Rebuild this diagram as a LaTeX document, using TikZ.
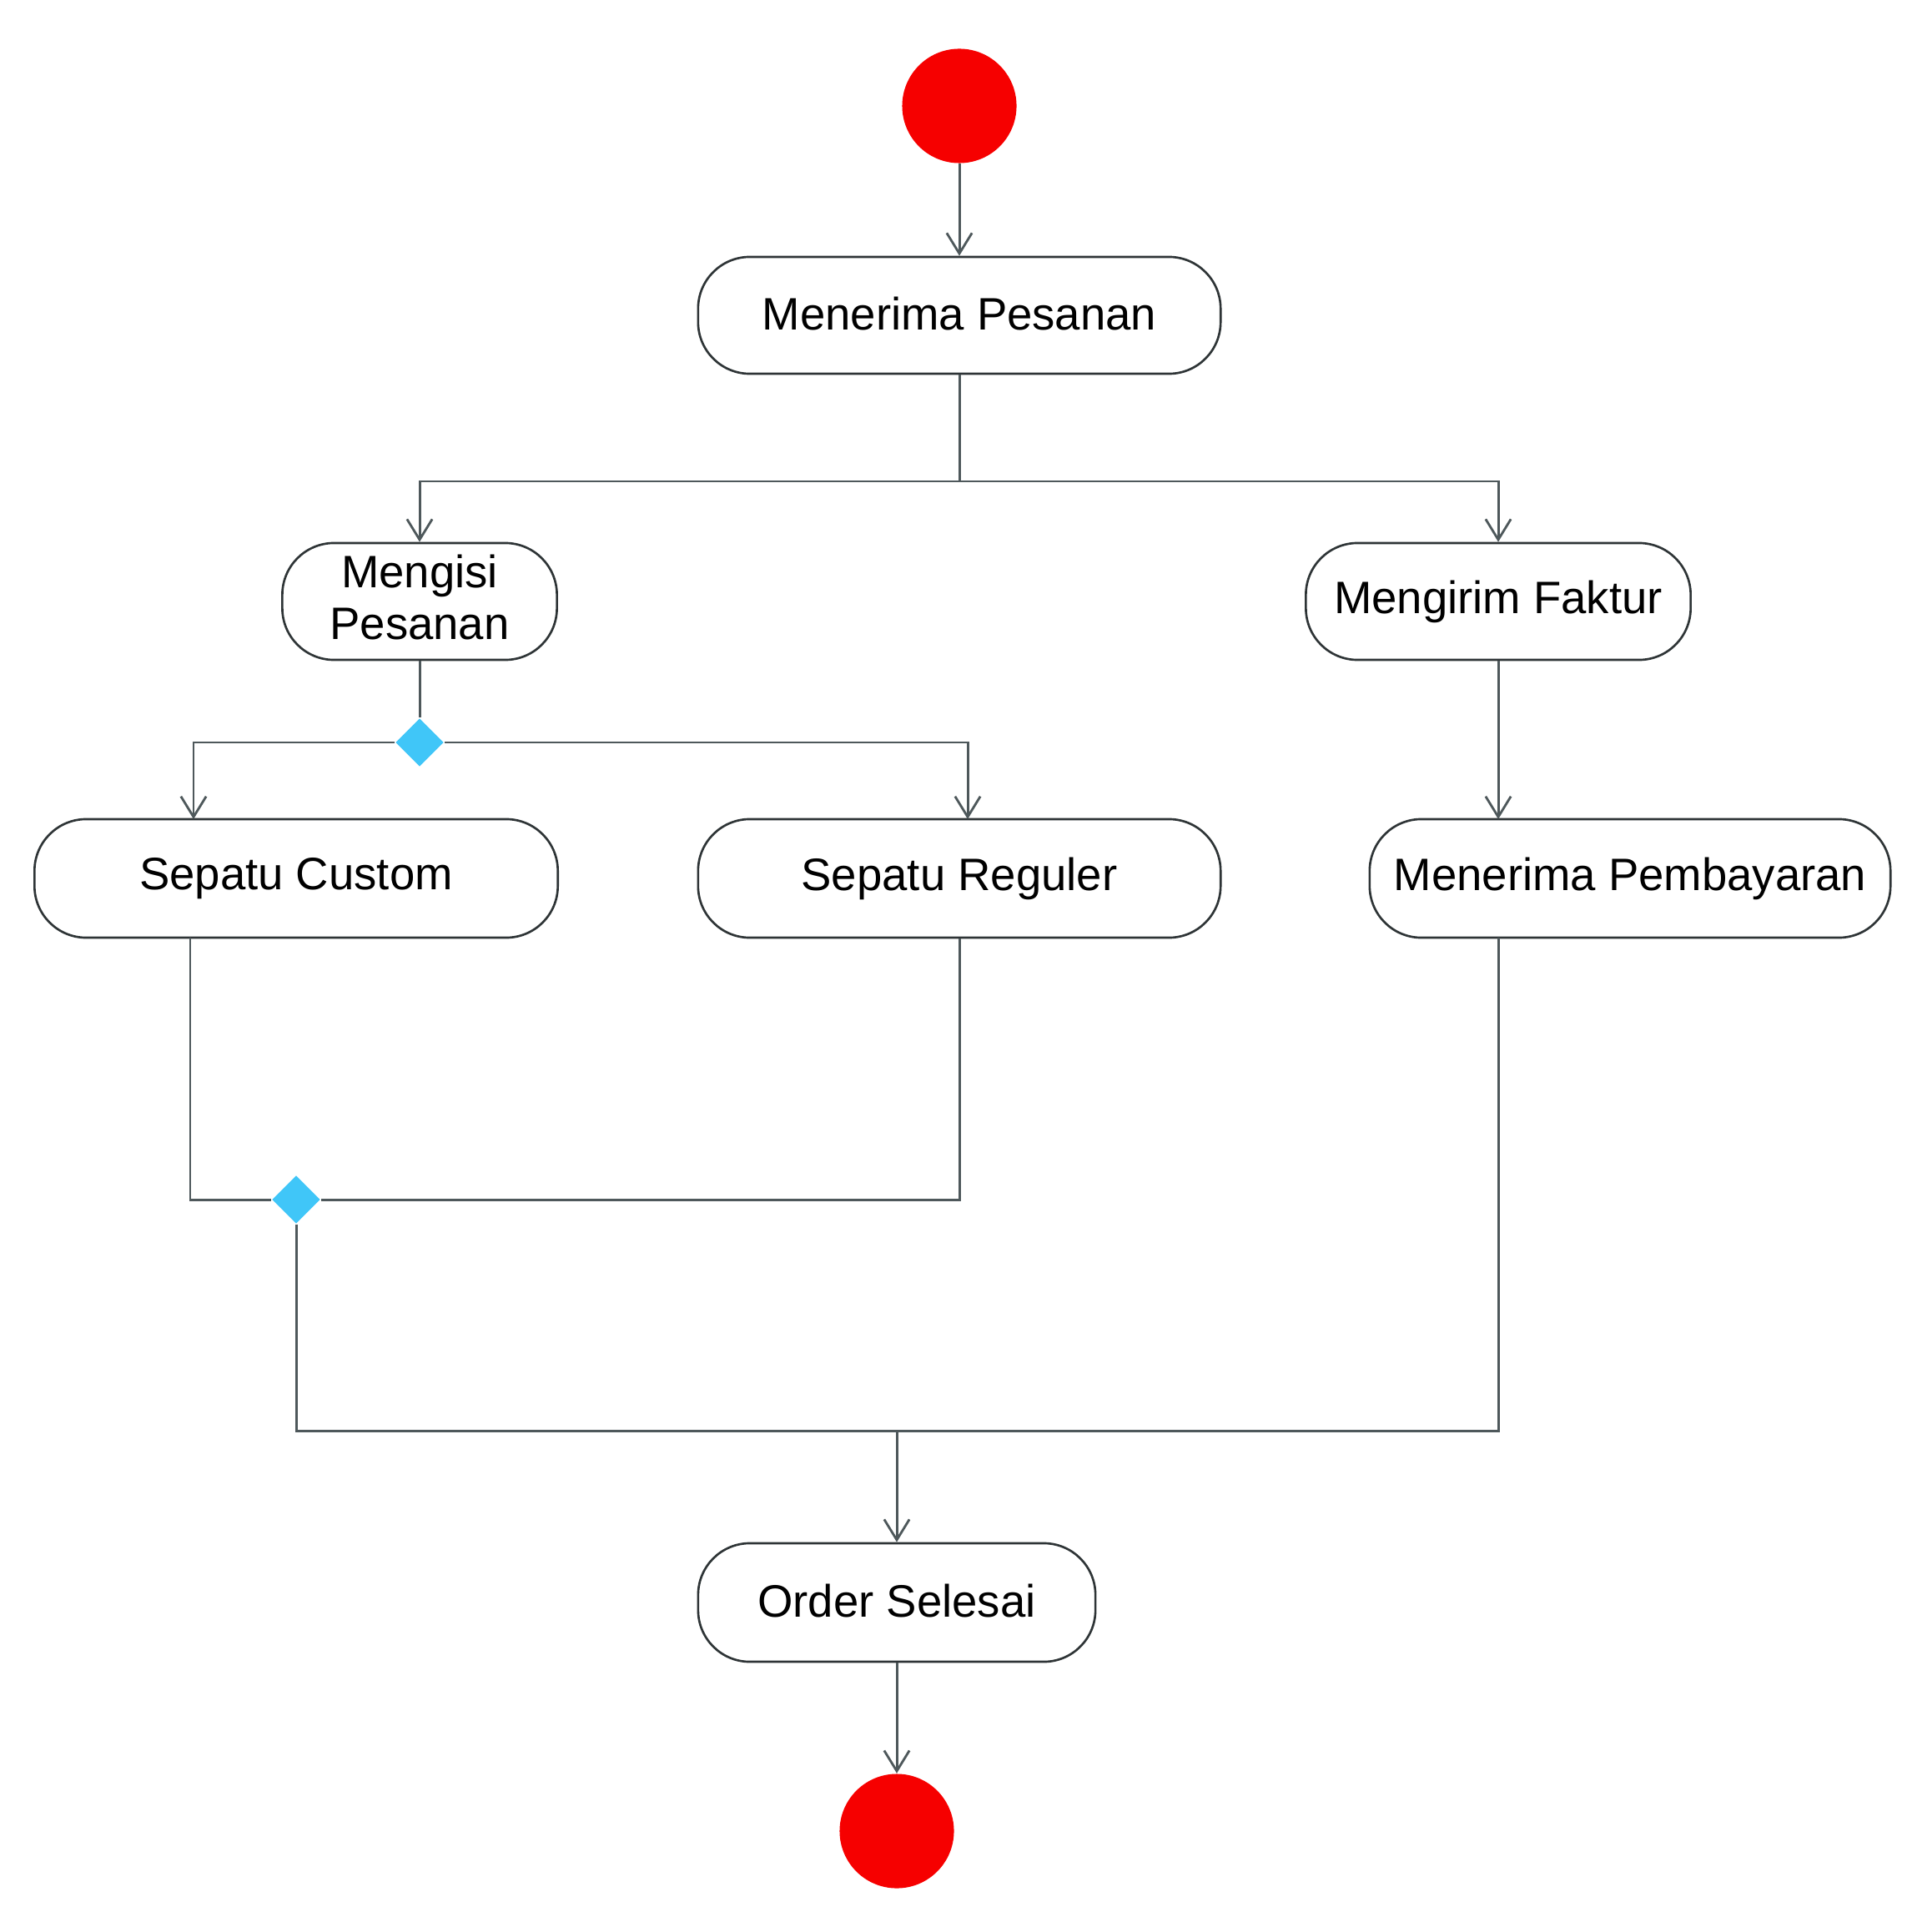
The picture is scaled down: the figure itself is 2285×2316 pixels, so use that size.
\documentclass[tikz,border=0pt]{standalone}
\usepackage{fontspec}
\setmainfont{Liberation Sans}
\usetikzlibrary{arrows.meta,shapes.geometric}
\definecolor{redfill}{HTML}{F60000}
\definecolor{diafill}{HTML}{40C6F8}
\definecolor{lncol}{HTML}{4E585B}
\definecolor{bxcol}{HTML}{2E3436}
\newcommand\uplbl[1]{\raisebox{1.1pt}{#1}}
\tikzset{
  act/.style={draw=bxcol, line width=0.75pt, rounded corners=0.62cm, fill=white,
    minimum height=1.40cm, inner sep=0pt, align=center,
    font=\fontsize{15.5}{17.4}\selectfont},
  dot/.style={circle, fill=redfill, draw=none, minimum size=1.37cm, inner sep=0pt},
  dec/.style={diamond, fill=diafill, draw=none, minimum size=0.58cm, inner sep=0pt},
  ln/.style={draw=lncol, line width=0.85pt},
  arr/.style={-{Straight Barb[length=7pt,width=8.6pt,line width=0.8pt]}}
}
\begin{document}
\begin{tikzpicture}[x=0.01cm,y=-0.01cm]
\useasboundingbox (0,0) rectangle (2285,2316);
\fill[white] (0,0) rectangle (2285,2316);
% nodes
\node[dot] (start) at (1150,127) {};
\node[act, minimum width=6.26cm] (mp) at (1150,378) {\uplbl{Menerima Pesanan}};
\node[act, minimum width=3.29cm, text depth=3pt] (mi) at (503,721) {Mengisi\\Pesanan};
\node[act, minimum width=4.61cm] (mf) at (1796,721) {\uplbl{Mengirim Faktur}};
\node[dec] (d1) at (503,890) {};
\node[act, minimum width=6.27cm, minimum height=1.42cm] (sc) at (355,1053) {\uplbl{Sepatu Custom}};
\node[act, minimum width=6.26cm, minimum height=1.42cm] (sr) at (1150,1053) {\uplbl{Sepatu Reguler}};
\node[act, minimum width=6.24cm, minimum height=1.42cm] (mpb) at (1954,1053) {\uplbl{Menerima Pembayaran}};
\node[dec] (d2) at (355,1438) {};
\node[act, minimum width=4.76cm, minimum height=1.42cm] (os) at (1075,1921) {\uplbl{Order Selesai}};
\node[dot] (end) at (1075,2195) {};
% helper coordinates
\coordinate (f1) at (1150,577);
\coordinate (scin) at (232,982);
\coordinate (srin) at (1160,982);
\coordinate (scout) at (228,1124);
\coordinate (mpbin) at (1796,982);
\coordinate (mpbout) at (1796,1124);
\coordinate (m1) at (1075,1715);
% connectors
\draw[ln,arr] (start) -- (mp);
\draw[ln,arr] (mp.south) -- (f1) -| (mi.north);
\draw[ln,arr] (f1) -| (mf.north);
\draw[ln] (mi.south) -- (d1.north);
\draw[ln,arr] (d1.west) -| (scin);
\draw[ln,arr] (d1.east) -| (srin);
\draw[ln,arr] (mf.south) -- (mpbin);
\draw[ln] (scout) |- (d2.west);
\draw[ln] (sr.south) |- (d2.east);
\draw[ln] (d2.south) |- (m1);
\draw[ln] (mpbout) |- (m1);
\draw[ln,arr] (m1) -- (os.north);
\draw[ln,arr] (os) -- (end);
\end{tikzpicture}
\end{document}
